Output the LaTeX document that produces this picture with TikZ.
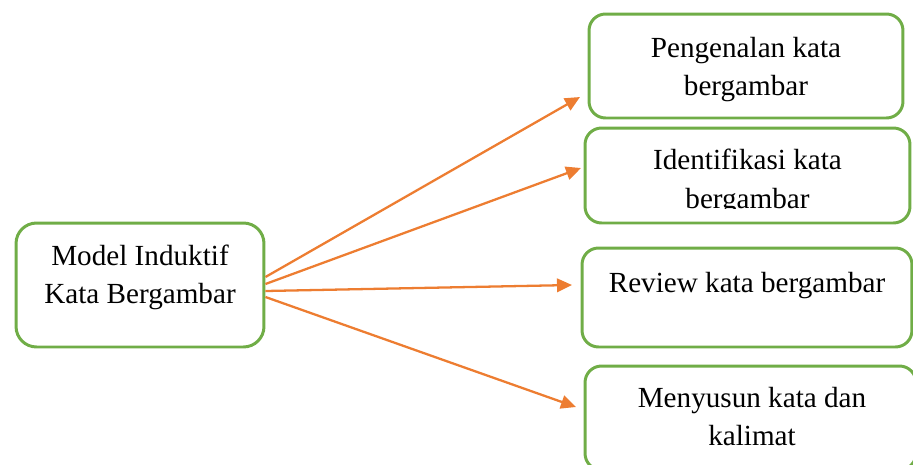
\documentclass[tikz,border=0pt]{standalone}
\usepackage{fontspec}
\setmainfont{Liberation Serif}
\usetikzlibrary{positioning,arrows.meta}
\definecolor{boxgreen}{RGB}{112,173,71}
\definecolor{arroworange}{RGB}{237,125,49}
\begin{document}
\begin{tikzpicture}
	[x=0.02cm,y=-0.02cm,
	box/.style={rectangle, draw=boxgreen, line width=1.7pt, rounded corners=0.33cm, inner sep=0pt},
	txt/.style={align=center, inner sep=0pt, font=\fontsize{16.6}{21.8}\selectfont},
	link/.style={draw=arroworange, line width=1.3pt, -{Triangle[length=0.3cm,width=0.27cm]}}]
	\clip (0,0) rectangle (913,464);

	\node[box, rounded corners=0.41cm, minimum width=4.96cm, minimum height=2.48cm] (m) at (140,285) {};
	\node[box, minimum width=6.28cm, minimum height=2.08cm] (p1) at (746,66) {};
	\node[box, minimum width=6.5cm, minimum height=1.9cm] (p2) at (747.5,175.5) {};
	\node[box, minimum width=6.6cm, minimum height=1.98cm] (p3) at (747,297.5) {};
	\node[box, minimum width=6.62cm, minimum height=2.08cm] (p4) at (750.5,418) {};

	\node[txt, below=0.46cm of m.north] (tm) {Model Induktif\\Kata Bergambar};
	\node[txt, below=0.48cm of p1.north] (t1) {Pengenalan kata\\bergambar};
	\begin{scope} % teks terpotong di bawah
	\clip (585,128) rectangle (910,208);
	\node[txt, below=0.45cm of p2.north] (t2) {Identifikasi kata\\bergambar};
	\end{scope}
	\node[txt, below=0.5cm of p3.north] (t3) {Review kata bergambar};
	\node[txt, below=0.45cm of p4.north, xshift=0.03cm] (t4) {Menyusun kata dan\\kalimat};

	\coordinate (a1) at (580,97);
	\coordinate (a2) at (581,168);
	\coordinate (a3) at (572,285);
	\coordinate (a4) at (576,407);

	\foreach \dy/\tip in {0.16/a1,0.02/a2,-0.12/a3,-0.24/a4}
	\draw[link] ([yshift=\dy cm]m.east) -- (\tip);
\end{tikzpicture}
\end{document}
